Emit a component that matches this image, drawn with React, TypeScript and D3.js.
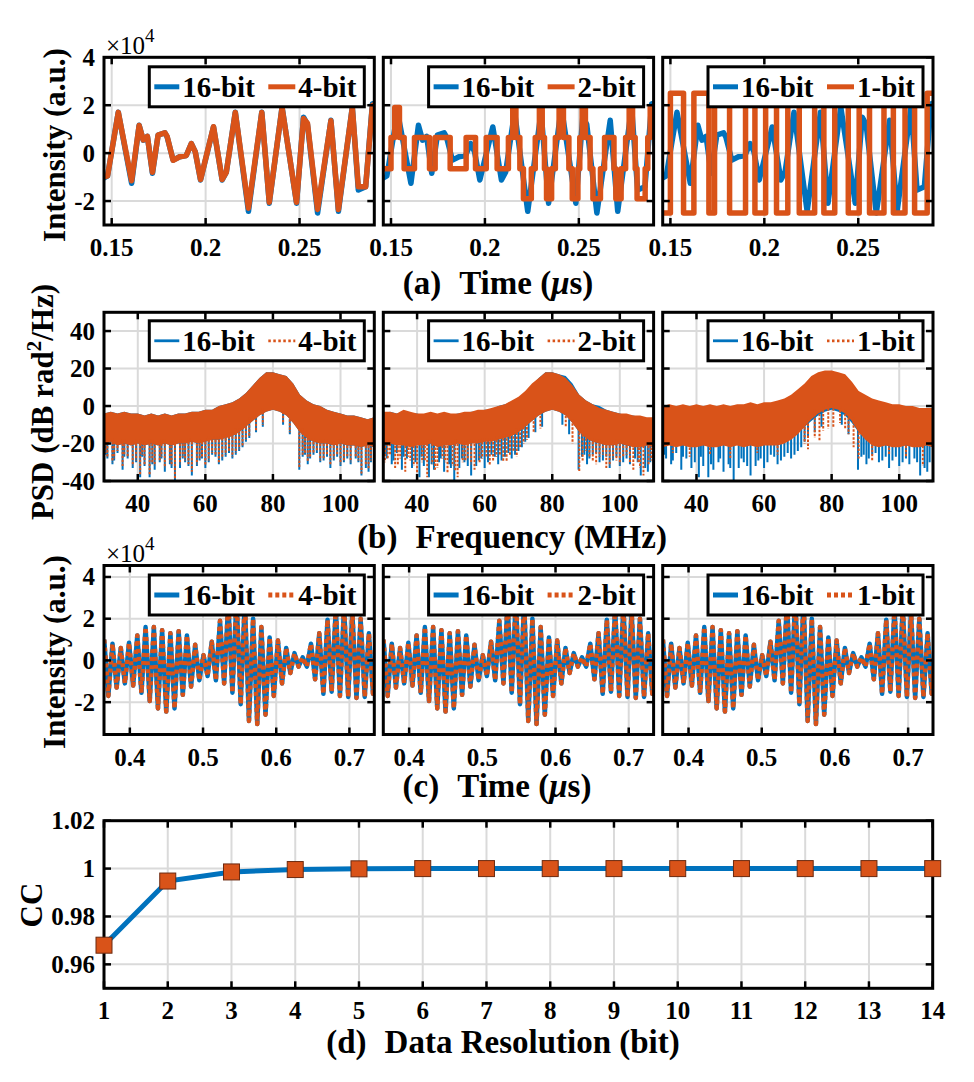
import React from 'react';
import * as d3 from 'd3';

const BLUE = '#0072BD';
const ORANGE = '#D95319';
const GRID = '#dadada';
const FONT = '"Liberation Serif", "Times New Roman", Times, serif';

// ---------- (a) time traces, x in µs, y in 1e4 a.u. ----------
const A16_T = [0.1455,0.1478,0.1535,0.1606,0.1646,0.1668,0.1690,0.1717,0.1747,0.1783,0.1795,0.1827,0.1862,0.1897,0.1924,0.1945,0.1973,0.2042,0.2088,0.2110,0.2158,0.2228,0.2299,0.2339,0.2407,0.2484,0.2521,0.2542,0.2596,0.2667,0.2707,0.2781,0.2813,0.2852,0.2888,0.2905];
const A16_V = [-1.05,-0.95,1.71,-1.26,1.16,0.54,0.70,-0.84,0.75,0.85,0.68,-0.29,-0.15,-0.10,0.40,0.05,-1.12,1.09,-1.12,-0.80,1.71,-2.43,1.71,-2.09,1.92,-2.09,1.50,1.20,-2.50,1.37,-2.43,1.92,-1.54,-1.40,2.06,2.1];
const A4_V = [-1.0,-0.95,1.7,-1.15,1.15,0.55,0.7,-0.8,0.75,0.85,0.7,-0.3,-0.15,-0.1,0.4,0.05,-1.1,1.1,-1.1,-0.8,1.7,-2.3,1.7,-2.05,1.9,-2.05,1.45,1.25,-2.35,1.35,-2.35,1.9,-1.4,-1.4,2.0,2.05];
const A2_T = [0.1455,0.1500,0.1520,0.1545,0.1570,0.1625,0.1705,0.1735,0.1815,0.1900,0.1950,0.2007,0.2065,0.2125,0.2148,0.2165,0.2186,0.2205,0.2247,0.2268,0.2290,0.2305,0.2317,0.2328,0.2355,0.2375,0.2395,0.2418,0.2447,0.2465,0.2495,0.2505,0.2518,0.2535,0.2560,0.2575,0.2615,0.2637,0.2687,0.2697,0.2725,0.2749,0.2768,0.2786,0.2800,0.2810,0.2853,0.2867,0.2880,0.2905];
const A2_V = [-0.65,0.65,1.9,0.65,-0.65,0.65,-0.65,0.65,-0.65,0.65,-0.65,0.65,-0.65,0.65,1.9,0.65,-0.65,-1.9,-0.65,0.65,1.9,0.65,-0.65,-1.9,-0.65,0.65,1.9,0.65,-0.65,-1.9,-0.65,0.65,1.9,0.65,-0.65,-1.9,-0.65,0.65,-0.65,-1.9,-0.65,0.65,1.9,0.65,-0.65,-1.9,-0.65,0.65,1.9,1.9];
const A1_T = [0.1455,0.1500,0.1570,0.1625,0.1705,0.1735,0.1815,0.1900,0.1950,0.2007,0.2065,0.2125,0.2186,0.2268,0.2317,0.2375,0.2447,0.2505,0.2560,0.2637,0.2687,0.2749,0.2800,0.2867,0.2905];
const A1_V = [-2.5,2.5,-2.5,2.5,-2.5,2.5,-2.5,2.5,-2.5,2.5,-2.5,2.5,-2.5,2.5,-2.5,2.5,-2.5,2.5,-2.5,2.5,-2.5,2.5,-2.5,2.5,2.5];

// ---------- (b) PSD, dB rad^2/Hz ----------
const PSD_F = [30,32,34,36,38,40,42,44,46,48,50,52,54,56,58,60,62,64,66,68,70,72,74,76,78,80,82,84,86,88,90,92,94,96,98,100,102,104,106,108,110];
const P1_UP = [-4,-3,-4,-3,-4,-4,-5,-4,-5,-4,-5,-4,-4,-3,-3,-2,-2,0,1,2,4,7,11,15,18,18,17,16,12,6,3,1,0,-2,-3,-4,-5,-5,-6,-7,-6];
const P1_LO = [-20,-19,-21,-20,-21,-20,-21,-20,-21,-20,-21,-20,-20,-19,-20,-19,-18,-18,-17,-16,-14,-11,-8,-5,-3,-2,-3,-5,-9,-14,-17,-19,-20,-20,-21,-20,-21,-21,-22,-21,-22];
const P2_UP = [-3,-3,-4,-2,-3,-4,-4,-3,-4,-3,-4,-4,-3,-3,-2,-2,-1,0,1,3,5,8,12,15,18,18,17,15,11,6,3,1,-1,-2,-3,-4,-4,-5,-5,-6,-6];
const P2_LO = [-21,-20,-21,-21,-22,-21,-21,-20,-22,-21,-21,-20,-21,-20,-20,-19,-19,-18,-17,-16,-14,-11,-8,-5,-3,-2,-3,-5,-9,-14,-17,-19,-20,-21,-21,-20,-21,-22,-22,-21,-22];
const P3_UP = [0,1,0,1,0,1,0,1,0,1,0,1,1,2,1,2,2,3,4,6,9,12,16,18,19,19,18,17,13,8,6,4,3,2,1,1,0,0,-1,-1,-1];
const P3_LO = [-22,-21,-22,-21,-22,-22,-21,-22,-22,-21,-22,-21,-22,-21,-22,-21,-21,-21,-20,-18,-15,-11,-7,-4,-2,-1,-2,-4,-8,-14,-18,-21,-22,-21,-22,-22,-21,-22,-22,-21,-22];

const B16_SPK_F = [31,32.5,34,35.5,37,38.5,40.7,42,43.5,45,46.5,48,49.5,51,52.5,54,56,57.5,59,61,63,65,67,69,71,73,75,77,83,85,87.8,89.5,91,93,95,97,99,101,103,104.5,106.2,107.5,109,
  30.5,33,36,39.5,41.3,44.3,47,50,53.3,55,58.3,60,62,64,66,68,70,72,88.8,90.3,92,94,96,98,100,102,105.3,108.3,110];
const B16_SPK_D = [-28,-31,-25,-34,-28,-33,-38,-32,-38,-34,-30,-35,-31,-40,-33,-30,-37,-32,-28,-30,-27,-29,-25,-26,-22,-17,-14,-11,-10,-15,-34,-26,-28,-25,-29,-33,-27,-30,-31,-28,-37,-33,-30,
  -26,-29,-27,-30,-27,-31,-28,-33,-28,-32,-29,-33,-26,-31,-27,-28,-24,-19,-27,-31,-26,-30,-27,-29,-32,-28,-30,-35,-27];
const O4_SPK_F = [31,32.5,34,35.5,37,38.5,40.7,42,43.5,45,46.5,48,49.5,51,52.5,54,56,57.5,59,61,63,65,67,69,71,73,75,77,83,85,87.8,89.5,91,93,95,97,99,101,103,104.5,106.2,107.5,109,
  30.5,33,36,39.5,41.3,44.3,47,50,53.3,55,58.3,60,62,64,66,68,70,72,88.8,90.3,92,94,96,98,100,102,105.3,108.3,110];
const O4_SPK_D = [-27,-30,-24,-32,-27,-32,-37,-31,-37,-32,-29,-33,-30,-39,-31,-29,-35,-31,-27,-29,-26,-28,-24,-25,-21,-16,-13,-10,-9,-14,-33,-25,-27,-24,-28,-31,-26,-29,-30,-27,-36,-31,-29,
  -25,-28,-26,-29,-26,-30,-27,-32,-27,-31,-28,-32,-25,-30,-26,-27,-23,-18,-26,-30,-25,-29,-26,-28,-31,-27,-29,-34,-26];
const O2_SPK_F = [30.5,32,33.5,35,36.5,38,40,41.5,43,44.5,46,47.5,49,50.5,52,53.5,55,57,58.5,60.5,62.5,64.5,66.5,68.5,70.5,72.5,74.5,76.5,84,86,88,90,92,94,96,98,100,102,104,105.5,107,108.5,
  31.3,34.3,37.3,39,42.3,45.3,48.3,51.3,54.3,56,59.3,61.5,63.5,65.5,67.5,69.5,71.5,89,91,93,95,97,99,101,103,106,109.3];
const O2_SPK_D = [-30,-26,-33,-28,-35,-29,-36,-30,-38,-31,-33,-28,-36,-32,-38,-30,-28,-34,-30,-27,-29,-26,-30,-24,-22,-18,-14,-12,-11,-20,-35,-24,-29,-27,-33,-28,-31,-26,-34,-30,-37,-31,
  -28,-31,-27,-32,-29,-34,-30,-35,-29,-31,-28,-32,-27,-30,-26,-27,-20,-29,-27,-31,-26,-32,-29,-27,-30,-33,-29];
const O1_SPK_F = [33,38,44,50,58,64,72,73,75,76.4,77.5,79,80.5,82.5,84,85,86.5,88,92,97,102,107];
const O1_SPK_D = [-25,-27,-26,-28,-25,-26,-20,-23,-17,-19,-13,-12,-11,-9,-12,-15,-22,-28,-29,-26,-27,-32];

// ---------- (c) long time trace, alternating extrema ----------
const C_T0 = 0.365;
const C_DT = 0.00565;
const C_V = [1.0,-1.7,0.8,-1.3,0.6,-1.1,0.85,-1.2,1.2,-1.55,1.6,-1.95,1.6,-2.3,1.45,-2.45,1.3,-2.3,1.4,-1.65,1.2,-1.25,0.75,-0.95,0.25,-0.75,0.9,-0.95,1.9,-1.1,2.8,-1.55,3.0,-2.1,2.9,-2.9,2.0,-3.05,1.6,-2.6,1.1,-1.7,0.95,-1.1,0.6,-0.6,0.35,-0.3,0.15,-0.3,0.8,-0.9,1.3,-1.6,1.95,-1.5,2.5,-1.7,2.6,-1.75,2.3,-1.8,2.0,-1.75,1.3,-1.6,1.0];

// ---------- (d) CC vs bits ----------
const CC_BITS = [1,2,3,4,5,6,7,8,9,10,11,12,13,14];
const CC_VALS = [0.968,0.9948,0.9986,0.9996,0.9999,1,1,1,1,1,1,1,1,1];

const COL_X = [104, 383.3, 662.7];
const COL_W = 270.3;
const BITS = ['4-bit', '2-bit', '1-bit'];

type S = d3.ScaleLinear<number, number>;

function Panel(p: {
  id: string; x: number; y: number; w: number; h: number;
  xd: [number, number]; yd: [number, number];
  xt: number[]; yt: number[]; xl: string[]; yl: string[] | null;
  children: (sx: S, sy: S) => React.ReactNode;
  over?: React.ReactNode;
}) {
  const sx = d3.scaleLinear().domain(p.xd).range([p.x, p.x + p.w]);
  const sy = d3.scaleLinear().domain(p.yd).range([p.y + p.h, p.y]);
  const tl = 7;
  return (
    <g>
      <defs>
        <clipPath id={p.id}><rect x={p.x} y={p.y} width={p.w} height={p.h} /></clipPath>
      </defs>
      <rect x={p.x} y={p.y} width={p.w} height={p.h} fill="white" />
      {p.xt.map((t, i) => <line key={'gx' + i} x1={sx(t)} x2={sx(t)} y1={p.y} y2={p.y + p.h} stroke={GRID} strokeWidth={2} />)}
      {p.yt.map((t, i) => <line key={'gy' + i} y1={sy(t)} y2={sy(t)} x1={p.x} x2={p.x + p.w} stroke={GRID} strokeWidth={2} />)}
      <g clipPath={`url(#${p.id})`}>{p.children(sx, sy)}</g>
      {p.xt.map((t, i) => (
        <g key={'tx' + i}>
          <line x1={sx(t)} x2={sx(t)} y1={p.y + p.h} y2={p.y + p.h - tl} stroke="black" strokeWidth={2.5} />
          <line x1={sx(t)} x2={sx(t)} y1={p.y} y2={p.y + tl} stroke="black" strokeWidth={2.5} />
          <text x={sx(t)} y={p.y + p.h + 31} fontSize={25} fontWeight="bold" textAnchor="middle">{p.xl[i]}</text>
        </g>
      ))}
      {p.yt.map((t, i) => (
        <g key={'ty' + i}>
          <line y1={sy(t)} y2={sy(t)} x1={p.x} x2={p.x + tl} stroke="black" strokeWidth={2.5} />
          <line y1={sy(t)} y2={sy(t)} x1={p.x + p.w} x2={p.x + p.w - tl} stroke="black" strokeWidth={2.5} />
          {p.yl && <text x={p.x - 9} y={sy(t) + 8.5} fontSize={25} fontWeight="bold" textAnchor="end">{p.yl[i]}</text>}
        </g>
      ))}
      {p.over}
      <rect x={p.x} y={p.y} width={p.w} height={p.h} fill="none" stroke="black" strokeWidth={3} />
    </g>
  );
}

function Legend({ x, y, name2, w, dash }: { x: number; y: number; name2: string; w: number; dash?: string }) {
  return (
    <g>
      <rect x={x} y={y} width={215} height={40} fill="white" stroke="black" strokeWidth={3} />
      <line x1={x + 5} x2={x + 30} y1={y + 20} y2={y + 20} stroke={BLUE} strokeWidth={w} />
      <text x={x + 33} y={y + 30} fontSize={29} fontWeight="bold">16-bit</text>
      <line x1={x + 119} x2={x + 146} y1={y + 20} y2={y + 20} stroke={ORANGE} strokeWidth={w} strokeDasharray={dash} />
      <text x={x + 149} y={y + 30} fontSize={29} fontWeight="bold">{name2}</text>
    </g>
  );
}

function linePath(sx: S, sy: S, t: number[], v: number[], curve: d3.CurveFactory = d3.curveLinear) {
  const g = d3.line<number>().x((_, i) => sx(t[i])).y((d) => sy(d)).curve(curve);
  return g(v) || '';
}

function bandPath(sx: S, sy: S, up: number[], lo: number[]) {
  const a = d3.area<number>().x((_, i) => sx(PSD_F[i])).y1((d) => sy(d)).y0((_, i) => sy(lo[i]));
  return a(up) || '';
}

function spikes(sx: S, sy: S, f: number[], d: number[], lo: number[], color: string, dash?: string) {
  return f.map((fr, i) => {
    const k = Math.max(0, Math.min(PSD_F.length - 1, Math.round((fr - 30) / 2)));
    return <line key={i} x1={sx(fr)} x2={sx(fr)} y1={sy(lo[k] + 2)} y2={sy(d[i])} stroke={color} strokeWidth={2} strokeDasharray={dash} />;
  });
}

function Mu() {
  return <tspan fontStyle="italic">μ</tspan>;
}

export default function App() {
  const rowA = { y: 57.3, h: 167.7 };
  const rowB = { y: 312.3, h: 168.7 };
  const rowC = { y: 565.5, h: 169 };
  const rowD = { y: 820.7, h: 167.6 };
  const C_T = C_V.map((_, i) => C_T0 + i * C_DT);
  const psdUp = [P1_UP, P2_UP, P3_UP];
  const psdLo = [P1_LO, P2_LO, P3_LO];
  const oSpkF = [O4_SPK_F, O2_SPK_F, O1_SPK_F];
  const oSpkD = [O4_SPK_D, O2_SPK_D, O1_SPK_D];

  return (
    <svg width={974} height={1082} style={{ position: 'absolute', left: 0, top: 0, background: 'white' }} fontFamily={FONT}>
      <rect x={0} y={0} width={974} height={1082} fill="white" />

      {/* Row (a) */}
      {COL_X.map((x0, c) => (
        <Panel key={'a' + c} id={'clipa' + c} x={x0} y={rowA.y} w={COL_W} h={rowA.h}
          xd={[0.1459, 0.2898]} yd={[-3, 4]} xt={[0.15, 0.2, 0.25]} yt={[-2, 0, 2, 4]}
          xl={['0.15', '0.2', '0.25']} yl={c === 0 ? ['-2', '0', '2', '4'] : null}
          over={<Legend x={x0 + COL_W - 10 - 215} y={rowA.y + 9.5} name2={BITS[c]} w={5} />}>
          {(sx, sy) => (
            <g fill="none" strokeLinejoin="round">
              <path d={linePath(sx, sy, A16_T, A16_V)} stroke={BLUE} strokeWidth={5.5} />
              {c === 0 && <path d={linePath(sx, sy, A16_T, A4_V)} stroke={ORANGE} strokeWidth={5.5} />}
              {c === 1 && <path d={linePath(sx, sy, A2_T, A2_V, d3.curveStepAfter)} stroke={ORANGE} strokeWidth={5.5} />}
              {c === 2 && <path d={linePath(sx, sy, A1_T, A1_V, d3.curveStepAfter)} stroke={ORANGE} strokeWidth={5.5} />}
            </g>
          )}
        </Panel>
      ))}
      <text x={106} y={54} fontSize={25}>×10<tspan dy={-12} fontSize={19}>4</tspan></text>
      <text transform="translate(65,145) rotate(-90)" fontSize={31} fontWeight="bold" textAnchor="middle">Intensity (a.u.)</text>
      <text x={498} y={294} fontSize={33} fontWeight="bold" textAnchor="middle">(a)<tspan dx={18}>Time (</tspan><Mu /><tspan>s)</tspan></text>

      {/* Row (b) */}
      {COL_X.map((x0, c) => (
        <Panel key={'b' + c} id={'clipb' + c} x={x0} y={rowB.y} w={COL_W} h={rowB.h}
          xd={[30, 110]} yd={[-40, 50]} xt={[40, 60, 80, 100]} yt={[-40, -20, 0, 20, 40]}
          xl={['40', '60', '80', '100']} yl={c === 0 ? ['-40', '-20', '0', '20', '40'] : null}
          over={<Legend x={x0 + COL_W - 10 - 215} y={rowB.y + 8.5} name2={BITS[c]} w={2.8} dash="2.5 2.5" />}>
          {(sx, sy) => (
            <g>
              <path d={bandPath(sx, sy, P1_UP, P1_LO)} fill={BLUE} />
              {spikes(sx, sy, B16_SPK_F, B16_SPK_D, P1_LO, BLUE)}
              <path d={bandPath(sx, sy, psdUp[c], psdLo[c])} fill={ORANGE} />
              {spikes(sx, sy, oSpkF[c], oSpkD[c], psdLo[c], ORANGE, '2.5 1.5')}
            </g>
          )}
        </Panel>
      ))}
      <text transform="translate(53,402) rotate(-90)" fontSize={31} fontWeight="bold" textAnchor="middle">PSD (dB rad<tspan dy={-12} fontSize={21}>2</tspan><tspan dy={12}>/Hz)</tspan></text>
      <text x={512} y={548} fontSize={33} fontWeight="bold" textAnchor="middle">(b)<tspan dx={18}>Frequency (MHz)</tspan></text>

      {/* Row (c) */}
      {COL_X.map((x0, c) => (
        <Panel key={'c' + c} id={'clipc' + c} x={x0} y={rowC.y} w={COL_W} h={rowC.h}
          xd={[0.3647, 0.734]} yd={[-3.55, 4.55]} xt={[0.4, 0.5, 0.6, 0.7]} yt={[-2, 0, 2, 4]}
          xl={['0.4', '0.5', '0.6', '0.7']} yl={c === 0 ? ['-2', '0', '2', '4'] : null}
          over={<Legend x={x0 + COL_W - 10 - 215} y={rowC.y + 9.5} name2={BITS[c]} w={5} dash="4 3" />}>
          {(sx, sy) => (
            <g fill="none" strokeLinejoin="round">
              <path d={linePath(sx, sy, C_T, C_V)} stroke={BLUE} strokeWidth={4.5} />
              <path d={linePath(sx, sy, C_T, C_V)} stroke={ORANGE} strokeWidth={4.5} strokeDasharray="4 4" />
            </g>
          )}
        </Panel>
      ))}
      <text x={106} y={562} fontSize={25}>×10<tspan dy={-12} fontSize={19}>4</tspan></text>
      <text transform="translate(65,652) rotate(-90)" fontSize={31} fontWeight="bold" textAnchor="middle">Intensity (a.u.)</text>
      <text x={497} y={797} fontSize={33} fontWeight="bold" textAnchor="middle">(c)<tspan dx={18}>Time (</tspan><Mu /><tspan>s)</tspan></text>

      {/* Row (d) */}
      <Panel id="clipd" x={104} y={rowD.y} w={828.7} h={rowD.h}
        xd={[1, 14]} yd={[0.95, 1.02]} xt={CC_BITS} yt={[0.96, 0.98, 1, 1.02]}
        xl={CC_BITS.map(String)} yl={['0.96', '0.98', '1', '1.02']}
        over={null}>
        {(sx, sy) => (
          <path d={linePath(sx, sy, CC_BITS, CC_VALS)} fill="none" stroke={BLUE} strokeWidth={5} />
        )}
      </Panel>
      {(() => {
        const sx = d3.scaleLinear().domain([1, 14]).range([104, 932.7]);
        const sy = d3.scaleLinear().domain([0.95, 1.02]).range([rowD.y + rowD.h, rowD.y]);
        return CC_BITS.map((b, i) => (
          <rect key={i} x={sx(b) - 8} y={sy(CC_VALS[i]) - 8} width={16} height={16} fill={ORANGE} stroke="#6b2a10" strokeWidth={1} />
        ));
      })()}
      <text transform="translate(42,905) rotate(-90)" fontSize={31} fontWeight="bold" textAnchor="middle">CC</text>
      <text x={503} y={1053} fontSize={33} fontWeight="bold" textAnchor="middle">(d)<tspan dx={18}>Data Resolution (bit)</tspan></text>
    </svg>
  );
}
